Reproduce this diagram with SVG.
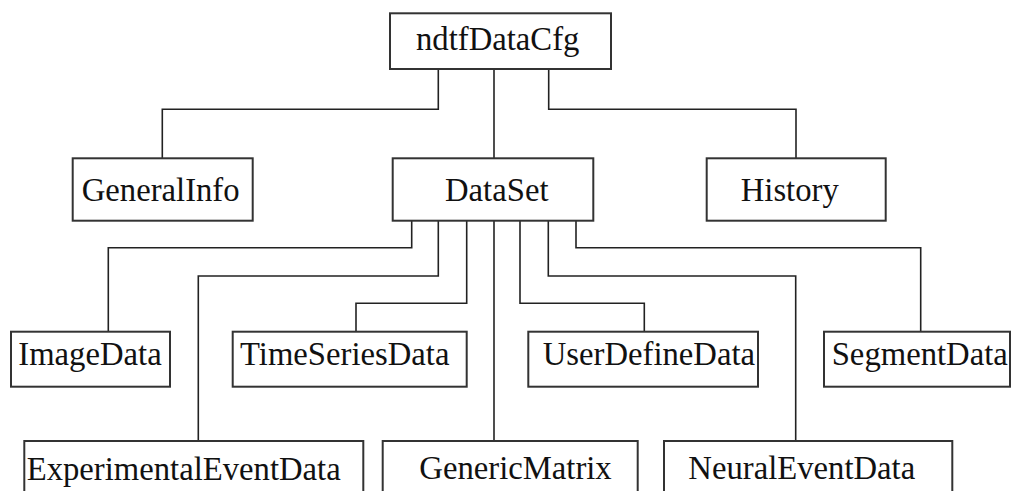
<svg xmlns="http://www.w3.org/2000/svg" width="1011" height="491" viewBox="0 0 1011 491">
<style>
.box{fill:#fff;stroke:#333;stroke-width:2}
.lbl{font-family:"Liberation Serif","Times New Roman",serif;font-size:32.7px;fill:#111}
.conn path{fill:none;stroke:#222;stroke-width:1.6}
</style>
<rect width="1011" height="491" fill="#fff"/>
<g class="conn" id="connectors">
<path d="M438.3 69 V109.3 H162.3 V158.3"/>
<path d="M494 69 V158.3"/>
<path d="M548.7 69 V109.3 H796 V158.3"/>
<path d="M411.7 221 V247.7 H108.3 V331.7"/>
<path d="M438.3 221 V276 H198.3 V441"/>
<path d="M466.7 221 V303.3 H356 V331.7"/>
<path d="M494 221 V441"/>
<path d="M520 221 V303.3 H644.3 V331.7"/>
<path d="M548.3 221 V276 H795.7 V441"/>
<path d="M576 221 V247.7 H920.7 V331.7"/>
</g>
<g id="ndtfDataCfg"><rect class="box" x="390" y="13.3" width="221" height="55.7"/><text class="lbl" x="416" y="50">ndtfDataCfg</text></g>
<g id="GeneralInfo"><rect class="box" x="72.7" y="158.3" width="180" height="62.4"/><text class="lbl" x="81.7" y="200.7">GeneralInfo</text></g>
<g id="DataSet"><rect class="box" x="392.7" y="158.3" width="200.6" height="62.4"/><text class="lbl" x="445" y="200.5">DataSet</text></g>
<g id="History"><rect class="box" x="706.7" y="158.3" width="179" height="62.4"/><text class="lbl" x="740.7" y="200.7">History</text></g>
<g id="ImageData"><rect class="box" x="11" y="331.7" width="159" height="55"/><text class="lbl" x="18.3" y="365">ImageData</text></g>
<g id="TimeSeriesData"><rect class="box" x="232.7" y="331.7" width="234" height="55"/><text class="lbl" x="240" y="365">TimeSeriesData</text></g>
<g id="UserDefineData"><rect class="box" x="528.3" y="331.7" width="229.7" height="55"/><text class="lbl" x="542.7" y="365">UserDefineData</text></g>
<g id="SegmentData"><rect class="box" x="824" y="331.7" width="186" height="55"/><text class="lbl" x="831.7" y="365">SegmentData</text></g>
<g id="ExperimentalEventData"><rect class="box" x="24.3" y="441" width="339" height="70"/><text class="lbl" x="26.7" y="479.5">ExperimentalEventData</text></g>
<g id="GenericMatrix"><rect class="box" x="382.7" y="441" width="255" height="70"/><text class="lbl" x="419.3" y="479.3">GenericMatrix</text></g>
<g id="NeuralEventData"><rect class="box" x="664" y="441" width="288.3" height="70"/><text class="lbl" x="688.3" y="478.5">NeuralEventData</text></g>
</svg>
